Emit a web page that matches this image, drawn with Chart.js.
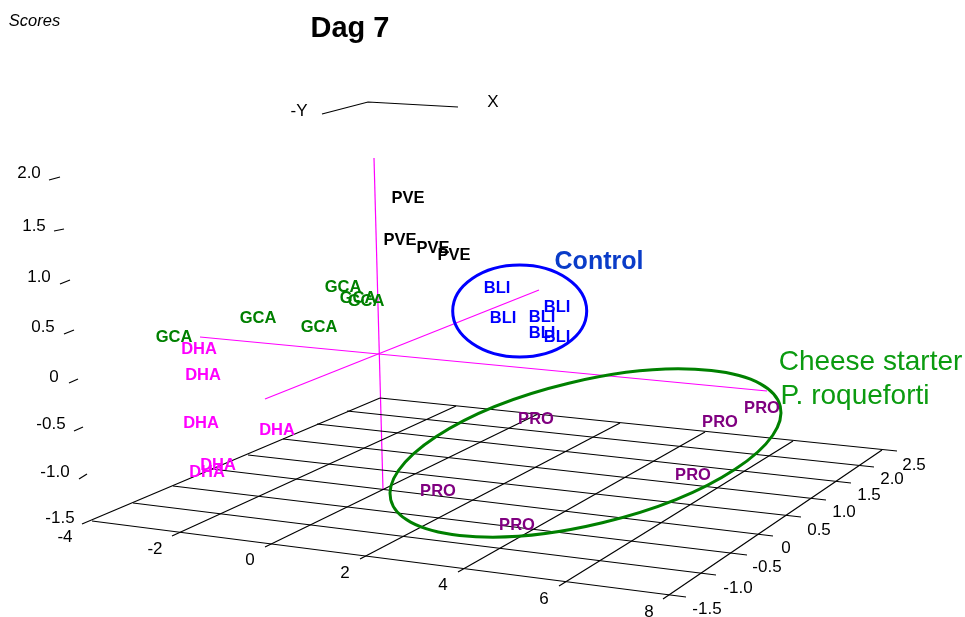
<!DOCTYPE html>
<html>
<head>
<meta charset="utf-8">
<title>Dag 7</title>
<script src="https://cdn.jsdelivr.net/npm/chart.js@4/dist/chart.umd.min.js"></script>
<style>
  html, body { margin: 0; padding: 0; background: #ffffff; }
  canvas { display: block; }
</style>
</head>
<body>
<canvas id="grafico" width="965" height="617"></canvas>
<script>
// the source is a 3D plot, so the values are read in the projected plane of the picture
const pveX = [408, 400, 433, 454];
const pveY = [197, 239, 247, 254];
const bliX = [497, 503, 542, 557, 542, 557];
const bliY = [287, 317, 316, 306, 332, 336];
const gcaX = [174, 258, 319, 343, 358, 366];
const gcaY = [336, 317, 326, 286, 297, 300];
const dhaX = [199, 203, 201, 277, 218, 207];
const dhaY = [348, 374, 422, 429, 464, 471];
const proX = [536, 438, 517, 720, 762, 693];
const proY = [418, 490, 524, 421, 407, 474];

// floor grid, constant X lines (front end, back end)
const xLinhaFrenteX = [82, 172, 265, 360, 458, 559, 663];
const xLinhaFrenteY = [524, 536, 547, 559, 572, 586, 599];
const xLinhaFundoX = [380, 456, 537, 620, 705, 793, 882];
const xLinhaFundoY = [398, 406, 414.5, 423, 432, 441, 450];

// floor grid, constant Y lines (left end, right end)
const yLinhaEsqX = [92, 133, 173, 212, 248, 283, 317, 347, 380];
const yLinhaEsqY = [521, 503, 486, 469, 455, 439, 424, 411, 398];
const yLinhaDirX = [686, 716, 747, 773, 801, 826, 851, 874, 897];
const yLinhaDirY = [597, 575, 555, 536, 517, 500, 483, 467, 451];

// magenta origin axes
const eixoZX = [374, 383];
const eixoZY = [158, 490];
const eixoXX = [200, 767];
const eixoXY = [337, 391];
const eixoYX = [265, 539];
const eixoYY = [399, 290];

// small orientation key at the top
const chaveX = [322, 368, 458];
const chaveY = [114, 102, 107];

// short ticks on the Scores axis
const zTickIniX = [49, 54, 60, 64, 69, 74, 79];
const zTickIniY = [180, 231, 284, 334, 383, 431, 479];
const zTickFimX = [60, 64, 70, 74, 78, 83, 87];
const zTickFimY = [177, 229, 280, 330, 379, 427, 474];

const zTicks = ['2.0', '1.5', '1.0', '0.5', '0', '-0.5', '-1.0', '-1.5'];
const zTickX = [29, 34, 39, 43, 54, 51, 55, 60];
const zTickY = [172, 225, 276, 326, 376, 423, 471, 517];
const xTicks = ['-4', '-2', '0', '2', '4', '6', '8'];
const xTickX = [65, 155, 250, 345, 443, 544, 649];
const xTickY = [536, 548, 559, 572, 584, 598, 611];
const yTicks = ['2.5', '2.0', '1.5', '1.0', '0.5', '0', '-0.5', '-1.0', '-1.5'];
const yTickX = [914, 892, 869, 844, 819, 786, 767, 738, 707];
const yTickY = [464, 478, 494, 511, 529, 547, 566, 587, 608];

function pontos(xs, ys) {
  return xs.map((x, i) => ({ x: x, y: ys[i] }));
}

function linha(xs, ys, cor, largura) {
  return {
    type: 'scatter',
    data: pontos(xs, ys),
    showLine: true,
    borderColor: cor,
    borderWidth: largura,
    pointRadius: 0,
    tension: 0
  };
}

function rotulos(textos, xs, ys, cor, fonte) {
  return {
    type: 'scatter',
    data: pontos(xs, ys),
    pointRadius: 0,
    showLine: false,
    textos: textos,
    corTexto: cor,
    fonteTexto: fonte
  };
}

function repetir(texto, n) {
  return new Array(n).fill(texto);
}

const conjuntos = [];

xLinhaFrenteX.forEach((x, i) => {
  conjuntos.push(linha([x, xLinhaFundoX[i]], [xLinhaFrenteY[i], xLinhaFundoY[i]], '#000000', 1.2));
});
yLinhaEsqX.forEach((x, i) => {
  conjuntos.push(linha([x, yLinhaDirX[i]], [yLinhaEsqY[i], yLinhaDirY[i]], '#000000', 1.2));
});
zTickIniX.forEach((x, i) => {
  conjuntos.push(linha([x, zTickFimX[i]], [zTickIniY[i], zTickFimY[i]], '#000000', 1.2));
});
conjuntos.push(linha(chaveX, chaveY, '#000000', 1.2));
conjuntos.push(linha(eixoZX, eixoZY, '#ff00ff', 1.2));
conjuntos.push(linha(eixoXX, eixoXY, '#ff00ff', 1.2));
conjuntos.push(linha(eixoYX, eixoYY, '#ff00ff', 1.2));

const fonteMarca = 'bold 16.5px "Liberation Sans"';
const fonteTick = '17px "Liberation Sans"';

conjuntos.push(rotulos(zTicks, zTickX, zTickY, '#000000', fonteTick));
conjuntos.push(rotulos(xTicks, xTickX, xTickY, '#000000', fonteTick));
conjuntos.push(rotulos(yTicks, yTickX, yTickY, '#000000', fonteTick));
conjuntos.push(rotulos(repetir('PVE', pveX.length), pveX, pveY, '#000000', fonteMarca));
conjuntos.push(rotulos(repetir('GCA', gcaX.length), gcaX, gcaY, '#008000', fonteMarca));
conjuntos.push(rotulos(repetir('DHA', dhaX.length), dhaX, dhaY, '#ff00ff', fonteMarca));
conjuntos.push(rotulos(repetir('BLI', bliX.length), bliX, bliY, '#0000ff', fonteMarca));
conjuntos.push(rotulos(repetir('PRO', proX.length), proX, proY, '#800080', fonteMarca));
conjuntos.push(rotulos(['Scores'], [34.5], [20], '#000000', 'italic 16.5px "Liberation Sans"'));
conjuntos.push(rotulos(['Dag 7'], [350], [27], '#000000', 'bold 29px "Liberation Sans"'));
conjuntos.push(rotulos(['-Y'], [299], [110], '#000000', fonteTick));
conjuntos.push(rotulos(['X'], [493], [101], '#000000', fonteTick));
conjuntos.push(rotulos(['Control'], [599], [261], '#0a3cc8', 'bold 25px "Liberation Sans"'));
conjuntos.push(rotulos(['Cheese starter'], [870.5], [361], '#0b9b10', '28px "Liberation Sans"'));
conjuntos.push(rotulos(['P. roqueforti'], [855], [395], '#0b9b10', '28px "Liberation Sans"'));

function desenharElipse(chart, cx, cy, rx, ry, angulo, cor) {
  const ctx = chart.ctx;
  const sx = chart.scales.x;
  const sy = chart.scales.y;
  const px = sx.getPixelForValue(cx);
  const py = sy.getPixelForValue(cy);
  ctx.save();
  ctx.beginPath();
  ctx.ellipse(px, py, sx.getPixelForValue(cx + rx) - px, sy.getPixelForValue(cy + ry) - py, angulo, 0, Math.PI * 2);
  ctx.strokeStyle = cor;
  ctx.lineWidth = 3;
  ctx.stroke();
  ctx.restore();
}

const pluginAnotacoes = {
  id: 'anotacoes',
  afterDatasetsDraw(chart) {
    desenharElipse(chart, 519.7, 311, 67, 46, 0, '#0000ff');
    desenharElipse(chart, 585.5, 453, 200.3, 71.8, -13.5 * Math.PI / 180, '#008000');

    const ctx = chart.ctx;
    ctx.save();
    ctx.textAlign = 'center';
    ctx.textBaseline = 'middle';
    chart.data.datasets.forEach((ds, i) => {
      if (!ds.textos) return;
      const meta = chart.getDatasetMeta(i);
      ctx.font = ds.fonteTexto;
      ctx.fillStyle = ds.corTexto;
      // the middle baseline sits a little high in Liberation Sans
      meta.data.forEach((p, j) => ctx.fillText(ds.textos[j], p.x, p.y + 1.5));
    });
    ctx.restore();
  }
};

new Chart(document.getElementById('grafico'), {
  type: 'scatter',
  data: { datasets: conjuntos },
  plugins: [pluginAnotacoes],
  options: {
    responsive: false,
    animation: false,
    layout: { padding: 0 },
    scales: {
      x: { type: 'linear', min: 0, max: 965, display: false },
      y: { type: 'linear', min: 0, max: 617, reverse: true, display: false }
    },
    plugins: {
      legend: { display: false },
      tooltip: { enabled: false }
    }
  }
});
</script>
</body>
</html>
